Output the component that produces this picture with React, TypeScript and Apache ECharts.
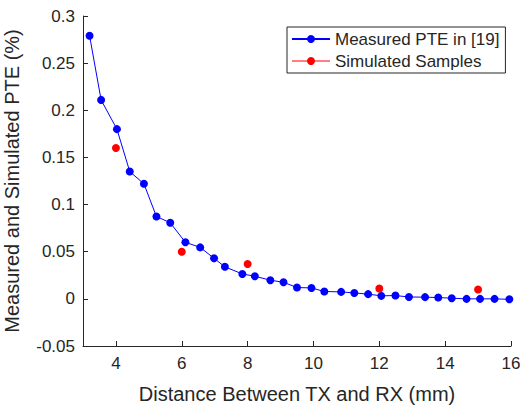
import React, { useEffect, useRef } from "react";
import * as echarts from "echarts";

const measuredX = [3.2, 3.55, 4.03, 4.42, 4.85, 5.23, 5.65, 6.11, 6.56, 6.98, 7.31, 7.84, 8.22, 8.69, 9.09, 9.5, 9.94, 10.33, 10.84, 11.24, 11.66, 12.06, 12.49, 12.9, 13.39, 13.79, 14.2, 14.65, 15.06, 15.5, 15.95];
const measuredY = [0.279, 0.211, 0.18, 0.135, 0.122, 0.0874, 0.0807, 0.06, 0.0546, 0.043, 0.034, 0.0264, 0.024, 0.0198, 0.0176, 0.012, 0.0116, 0.0078, 0.0074, 0.0063, 0.005, 0.0032, 0.0035, 0.002, 0.0018, 0.0014, 0.0007, 0.0, 0.0, 0.0, -0.0005];
const simulatedX = [4, 6, 8, 12, 15];
const simulatedY = [0.16, 0.05, 0.037, 0.011, 0.01];
const xTicks = [4, 6, 8, 10, 12, 14, 16];

const FONT = "'Liberation Sans', Arial, Helvetica, sans-serif";
const TXT = "#262626";

export default function App() {
  const ref = useRef<HTMLDivElement>(null);
  useEffect(() => {
    if (!ref.current) return;
    const chart = echarts.init(ref.current, undefined, { renderer: "svg" });
    chart.setOption({
      animation: false,
      backgroundColor: "#ffffff",
      textStyle: { fontFamily: FONT, color: TXT },
      grid: { left: 83, right: 12, top: 16, bottom: 62, containLabel: false, outerBoundsMode: "none" },
      legend: {
        orient: "vertical",
        left: 287,
        top: 27,
        padding: [3, 6, 3, 4],
        itemGap: 4,
        itemWidth: 38,
        itemHeight: 10,
        borderColor: TXT,
        borderWidth: 1,
        borderRadius: 0,
        backgroundColor: "#ffffff",
        textStyle: { fontFamily: FONT, fontSize: 17, color: TXT, lineHeight: 18 },
        data: [
          { name: "Measured PTE in [19]" },
          { name: "Simulated Samples", lineStyle: { width: 1, opacity: 1, color: "#ff0000" } },
        ],
      },
      xAxis: {
        type: "value",
        min: 3,
        max: 16,
        name: "Distance Between TX and RX (mm)",
        nameLocation: "middle",
        nameGap: 38,
        nameTextStyle: { fontFamily: FONT, fontSize: 20, color: TXT },
        axisLine: { onZero: false, lineStyle: { color: TXT, width: 1 } },
        axisTick: { inside: true, length: 5, customValues: xTicks, lineStyle: { color: TXT } },
        axisLabel: { customValues: xTicks, fontFamily: FONT, fontSize: 17, color: TXT, margin: 9 },
        splitLine: { show: false },
      },
      yAxis: {
        type: "value",
        min: -0.05,
        max: 0.3,
        interval: 0.05,
        name: "Measured and Simulated PTE (%)",
        nameLocation: "middle",
        nameGap: 61,
        nameTextStyle: { fontFamily: FONT, fontSize: 20, color: TXT },
        axisLine: { show: true, onZero: false, lineStyle: { color: TXT, width: 1 } },
        axisTick: { show: true, inside: true, length: 5, lineStyle: { color: TXT } },
        axisLabel: {
          fontFamily: FONT,
          fontSize: 17,
          color: TXT,
          margin: 8,
          formatter: (v: number) => String(parseFloat(v.toFixed(2))),
        },
        splitLine: { show: false },
      },
      series: [
        {
          name: "Measured PTE in [19]",
          type: "line",
          data: measuredX.map((x, i) => [x, measuredY[i]]),
          symbol: "circle",
          symbolSize: 8,
          showSymbol: true,
          color: "#0000ff",
          itemStyle: { color: "#0000ff" },
          lineStyle: { color: "#0000ff", width: 1 },
          z: 2,
        },
        {
          name: "Simulated Samples",
          type: "line",
          data: simulatedX.map((x, i) => [x, simulatedY[i]]),
          symbol: "circle",
          symbolSize: 8,
          color: "#ff0000",
          itemStyle: { color: "#ff0000" },
          lineStyle: { color: "#ff0000", width: 0, opacity: 0 },
          z: 3,
        },
      ],
    });
    return () => chart.dispose();
  }, []);
  return <div ref={ref} style={{ position: "absolute", left: 0, top: 0, width: 523, height: 408 }} />;
}
